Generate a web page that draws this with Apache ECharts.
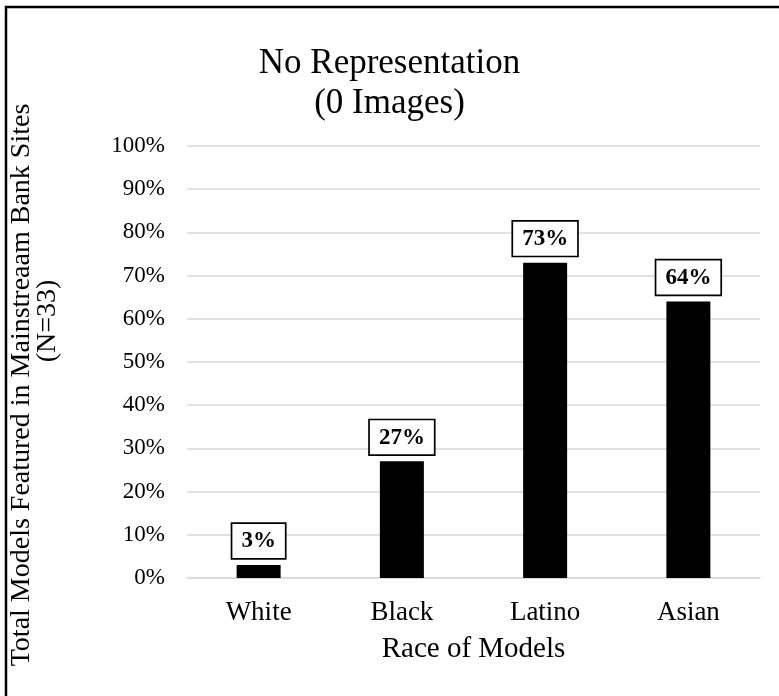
<!DOCTYPE html>
<html>
<head>
<meta charset="utf-8">
<script src="https://cdn.jsdelivr.net/npm/echarts@6/dist/echarts.min.js"></script>
<style>
  html, body { margin: 0; padding: 0; background: #fff; }
  #chart { width: 779px; height: 696px; }
</style>
</head>
<body>
<div id="chart"></div>
<script>
// Share of bank sites (N=33) with no image of each group
const categories = ['White', 'Black', 'Latino', 'Asian'];
const shares = [3, 27, 73, 64];
const yTicks = { min: 0, max: 100, step: 10 };

const serif = "'Liberation Serif', 'Times New Roman', serif";

const chart = echarts.init(document.getElementById('chart'), null, { renderer: 'canvas' });

chart.setOption({
  backgroundColor: '#ffffff',
  animation: false,
  title: {
    text: 'No Representation\n(0 Images)',
    left: 'center',
    top: 39,
    textStyle: {
      fontFamily: serif,
      fontWeight: 'normal',
      fontSize: 35,
      lineHeight: 40,
      color: '#000'
    }
  },
  graphic: [{
    type: 'rect',
    shape: { x: 6, y: 7, width: 900, height: 900 },
    style: { fill: 'none', stroke: '#000', lineWidth: 2.5 },
    silent: true
  }],
  grid: { left: 187, right: 19, top: 146, bottom: 118 },
  xAxis: {
    type: 'category',
    data: categories,
    axisTick: { show: false },
    axisLine: { show: true, lineStyle: { color: '#d9d9d9', width: 1.5 } },
    axisLabel: { fontFamily: serif, fontSize: 27, color: '#000', margin: 21 },
    name: 'Race of Models',
    nameLocation: 'middle',
    nameGap: 57,
    nameTextStyle: { fontFamily: serif, fontSize: 29, color: '#000' }
  },
  yAxis: {
    type: 'value',
    min: yTicks.min,
    max: yTicks.max,
    interval: yTicks.step,
    axisLine: { show: false },
    axisTick: { show: false },
    splitLine: { lineStyle: { color: '#d9d9d9', width: 1.5 } },
    axisLabel: {
      fontFamily: serif, fontSize: 23, color: '#000', margin: 22,
      formatter: '{value}%'
    },
    // second line is set off toward the top of the rotated title
    name: 'Total Models Featured in Mainstreaam Bank Sites\n{gap|}(N=33)',
    nameLocation: 'middle',
    nameRotate: 90,
    nameGap: 126,
    nameTextStyle: {
      fontFamily: serif, fontSize: 28, lineHeight: 26, color: '#000',
      padding: [0, 46, 0, 0],
      rich: {
        gap: { width: 128, fontFamily: serif, fontSize: 28, lineHeight: 26 }
      }
    }
  },
  series: [{
    type: 'bar',
    data: shares,
    barWidth: 44,
    itemStyle: { color: '#000' },
    label: {
      show: true,
      position: 'top',
      distance: 7,
      formatter: p => p.value + '%',
      fontFamily: serif,
      fontWeight: 'bold',
      fontSize: 23,
      color: '#000',
      backgroundColor: '#fff',
      borderColor: '#000',
      borderWidth: 1.7,
      padding: [6, 9, 5, 9]
    }
  }]
});
</script>
</body>
</html>
